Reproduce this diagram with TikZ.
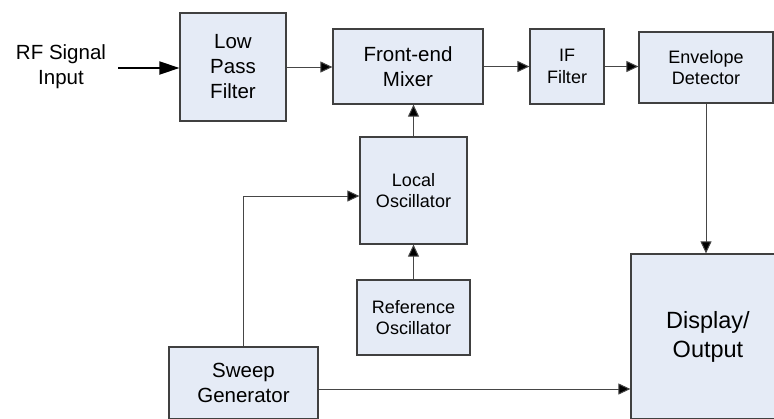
\documentclass[tikz,border=0pt]{standalone}
\usepackage{fontspec}
\setmainfont{Liberation Sans}
\usetikzlibrary{arrows.meta,calc}
\definecolor{boxfill}{RGB}{229,235,246}
\definecolor{boxline}{RGB}{64,64,64}
\definecolor{wire}{RGB}{70,70,70}
\tikzset{
  block/.style={draw=boxline, fill=boxfill, line width=1.2pt, rectangle,
    inner sep=0pt, align=center, text=black},
  bigtxt/.style={font=\fontsize{20.5}{25}\selectfont},
  midtxt/.style={font=\fontsize{18}{21.5}\selectfont},
  hugetxt/.style={font=\fontsize{23.5}{29}\selectfont},
  link/.style={draw=wire, line width=1pt, -{Triangle[length=12pt,width=11pt,fill=black]}},
  thicklink/.style={draw=black, line width=2pt, -{Triangle[length=20pt,width=13pt,fill=black]}}
}
\begin{document}
\begin{tikzpicture}[x=1pt,y=-1pt]
  \clip (0,0) rectangle (774,418);
  \fill[white] (0,0) rectangle (774,418);

  % signal chain blocks
  \node[block, bigtxt, minimum width=106pt, minimum height=108pt] (lpf) at (233,67) {Low\\Pass\\Filter};
  \node[block, bigtxt, minimum width=150pt, minimum height=75pt] (mix) at (408,66.5) {Front-end\\Mixer};
  \node[block, midtxt, minimum width=74pt, minimum height=75pt] (iff) at (567,66.5) {IF\\Filter};
  \node[block, midtxt, minimum width=134pt, minimum height=71pt] (env) at (706,67.5) {Envelope\\Detector};
  \node[block, midtxt, minimum width=107pt, minimum height=107pt] (lo) at (413.5,190.5) {Local\\Oscillator};
  \node[block, midtxt, minimum width=113pt, minimum height=75pt] (ref) at (413.5,317.5) {Reference\\Oscillator};
  \node[block, bigtxt, minimum width=149pt, minimum height=72pt] (sw) at (243.5,383) {Sweep\\Generator};
  \node[block, hugetxt, minimum width=154pt, minimum height=165pt] (disp) at (708,336.5) {Display/\\Output};

  % input label
  \node[bigtxt, align=center, inner sep=0pt] (rf) at (61,67) {RF Signal\\Input};
  \coordinate (rfin) at (118,68);

  % connectors
  \draw[thicklink] (rfin) -- (rfin -| lpf.west);
  \draw[link] (lpf.east) -- (lpf.east -| mix.west);
  \draw[link] (mix.east) -- (mix.east -| iff.west);
  \draw[link] (iff.east) -- (iff.east -| env.west);
  \draw[link] (env.south) -- (env.south |- disp.north);
  \draw[link] (lo.north) -- (lo.north |- mix.south);
  \draw[link] (ref.north) -- (lo.south);
  \draw[link] (sw.north) |- ([yshift=-5.5pt]lo.west);
  \draw[link] ([yshift=-6pt]sw.east) -- ([yshift=-6pt]sw.east -| disp.west);
\end{tikzpicture}
\end{document}
